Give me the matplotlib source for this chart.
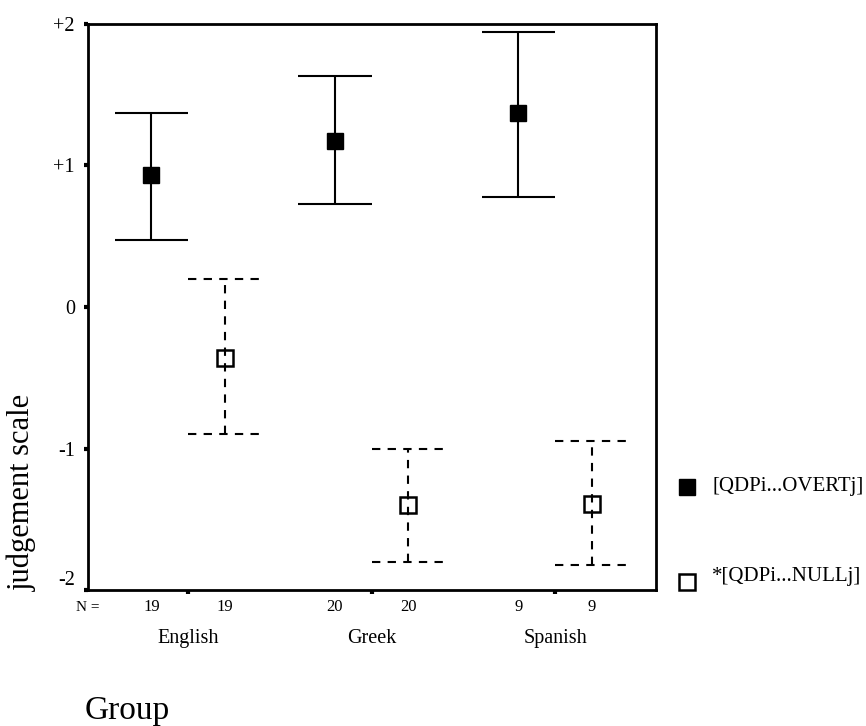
import matplotlib.pyplot as plt
from matplotlib.lines import Line2D

groups = ["English", "Greek", "Spanish"]
n_counts = [19, 20, 9]

overt_mean = [0.93, 1.17, 1.37]
overt_low = [0.47, 0.73, 0.78]
overt_high = [1.37, 1.63, 1.94]

null_mean = [-0.36, -1.40, -1.39]
null_low = [-0.90, -1.80, -1.82]
null_high = [0.20, -1.00, -0.95]

y_ticks = [-2, -1, 0, 1, 2]
y_tick_labels = ["-2", "-1", "0", "+1", "+2"]

overt_label = "[QDPi...OVERTj]"
null_label = "*[QDPi...NULLj]"

plt.rcParams["font.family"] = ["Liberation Serif", "DejaVu Serif"]

fig = plt.figure(figsize=(8.66, 7.26), dpi=100)
ax = fig.add_axes([0.1016, 0.1873, 0.6559, 0.7797])

shift = 0.2
cap = 0.2
pos = list(range(len(groups)))
x_overt = [p - shift for p in pos]
x_null = [p + shift for p in pos]

dash = (0, (4, 3.5))

# solid bars for the overt condition
ax.vlines(x_overt, overt_low, overt_high, colors="black", linewidth=1.5)
ax.hlines(overt_low, [x - cap for x in x_overt], [x + cap for x in x_overt],
          colors="black", linewidth=1.5)
ax.hlines(overt_high, [x - cap for x in x_overt], [x + cap for x in x_overt],
          colors="black", linewidth=1.5)
ax.plot(x_overt, overt_mean, linestyle="none", marker="s", markersize=11,
        markerfacecolor="black", markeredgecolor="black")

# dashed bars for the null condition
ax.vlines(x_null, null_low, null_high, colors="black", linewidth=1.5,
          linestyles=[dash])
ax.hlines(null_low, [x - cap for x in x_null], [x + cap for x in x_null],
          colors="black", linewidth=1.5, linestyles=[dash])
ax.hlines(null_high, [x - cap for x in x_null], [x + cap for x in x_null],
          colors="black", linewidth=1.5, linestyles=[dash])
ax.plot(x_null, null_mean, linestyle="none", marker="s", markersize=12,
        markerfacecolor="none", markeredgecolor="black", markeredgewidth=1.8)

ax.set_xlim(-0.545, 2.55)
ax.set_ylim(-2, 2)

for side in ["left", "right", "top", "bottom"]:
    ax.spines[side].set_linewidth(2)

ax.set_yticks(y_ticks)
ax.set_yticklabels(y_tick_labels, fontsize=14.5)
ax.get_yticklabels()[0].set_verticalalignment("bottom")
ax.tick_params(axis="y", length=3, width=3, pad=6.5)

ax.set_xticks(pos)
ax.set_xticklabels([])
ax.tick_params(axis="x", length=3, width=3)

# N row and group names under the axis
ax.text(-0.545, -0.03, "N =", transform=ax.get_xaxis_transform(),
        ha="center", va="center", fontsize=11)
for i in pos:
    ax.text(x_overt[i], -0.03, str(n_counts[i]),
            transform=ax.get_xaxis_transform(),
            ha="center", va="center", fontsize=12)
    ax.text(x_null[i], -0.03, str(n_counts[i]),
            transform=ax.get_xaxis_transform(),
            ha="center", va="center", fontsize=12)
    ax.text(pos[i], -0.085, groups[i], transform=ax.get_xaxis_transform(),
            ha="center", va="center", fontsize=14.5)

fig.text(127 / 866, 1 - 711 / 726, "Group", ha="center", va="center",
         fontsize=24)
fig.text(22 / 866, 1 - 492 / 726, "judgement scale", ha="center",
         va="center", rotation=90, fontsize=22)

# legend, drawn by hand at the right side
fig.add_artist(Line2D([687 / 866], [1 - 487 / 726], marker="s",
                      markersize=11, markerfacecolor="black",
                      markeredgecolor="black", linestyle="none"))
fig.text(712 / 866, 1 - 487 / 726, overt_label, ha="left", va="center",
         fontsize=15)
fig.add_artist(Line2D([687 / 866], [1 - 582 / 726], marker="s",
                      markersize=12, markerfacecolor="none",
                      markeredgecolor="black", markeredgewidth=1.8,
                      linestyle="none"))
fig.text(712 / 866, 1 - 576 / 726, null_label, ha="left", va="center",
         fontsize=15)

plt.savefig("out.png", dpi=100)
